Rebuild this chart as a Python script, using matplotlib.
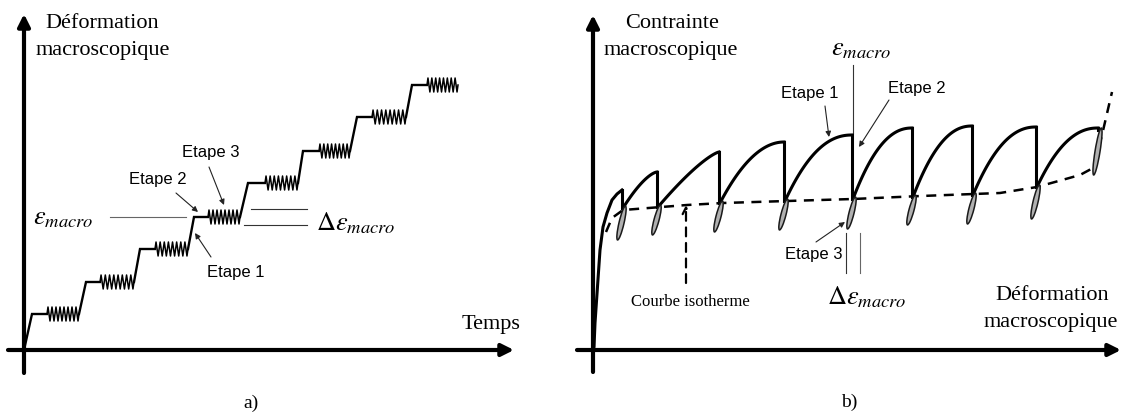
import numpy as np
import matplotlib
matplotlib.use("Agg")
import matplotlib.pyplot as plt
from matplotlib.patches import Ellipse

plt.rcParams['mathtext.fontset'] = 'stix'
SERIF = 'Liberation Serif'
SANS = 'Liberation Sans'

# --- a) deformation vs temps (staircase) ---
rise_top_t = [8, 62, 116, 170, 224, 279, 333, 388]
zig_start_t = [23, 76, 131, 184, 241, 295, 348, 403]
zig_end_t = [55, 110, 164, 216, 274, 326, 382, 434]
levels = [36, 68, 101, 133, 167, 199, 233, 265]
zig_amp = 7
n_teeth = 8

# --- b) contrainte vs deformation ---
init_x = [0, 1, 2, 7, 10, 14, 19, 24, 29]
init_y = [0, 3, 27, 100, 123, 137, 150, 156, 160]
peak_x = [29, 64, 126, 191, 259, 319, 379, 443, 505]
peak_y = [160, 178, 198, 208, 215, 222, 224, 223, 222]
loop_top = [142, 143, 147, 149, 151, 153, 155, 163, 220]
loop_bottom = [112, 117, 120, 122, 123, 127, 128, 133, 177]
arc_bend = [1.5, 1.3, 2.0, 2.2, 2.2, 2.2, 2.2, 2.2]
iso_x = [13, 19, 30, 94, 130, 194, 260, 328, 407, 444, 487, 500, 509, 519]
iso_y = [118, 132, 140, 145, 147, 149, 151, 154, 157, 163, 175, 182, 215, 258]

EPS = r'$\varepsilon_{macro}$'
DEPS = r'$\mathit{\Delta}\varepsilon_{macro}$'


def zigzag(x0, x1, lev):
    xs = [x0]
    ys = [lev]
    for k in range(2 * n_teeth):
        xs.append(x0 + (k + 0.5) * (x1 - x0) / (2 * n_teeth))
        ys.append(lev + zig_amp * (1 if k % 2 == 0 else -1))
    xs.append(x1)
    ys.append(lev)
    return xs, ys


def axis_arrows(ax, x0, x1, y0, y1):
    kw = dict(arrowstyle='-|>', lw=3, color='black', mutation_scale=18,
              shrinkA=0, shrinkB=0)
    ax.annotate('', xy=(x1, 0), xytext=(x0, 0), arrowprops=kw)
    ax.annotate('', xy=(0, y1), xytext=(0, y0), arrowprops=kw)


def pointer(ax, txt_xy, tip_xy):
    ax.annotate('', xy=tip_xy, xytext=txt_xy,
                arrowprops=dict(arrowstyle='-|>', lw=0.8, color='#222222',
                                mutation_scale=8, shrinkA=0, shrinkB=0))


fig = plt.figure(figsize=(11.26, 4.12), dpi=100)
ax_a = fig.add_axes([0, 0, 560 / 1126, 1])
ax_b = fig.add_axes([560 / 1126, 0, 566 / 1126, 1])
ax_a.set_xlim(-24, 536)
ax_a.set_ylim(-62, 350)
ax_b.set_xlim(-33, 533)
ax_b.set_ylim(-62, 350)
for ax in (ax_a, ax_b):
    ax.axis('off')

# ---------- panel a ----------
xs, ys = [0], [0]
for i in range(len(levels)):
    xs += [rise_top_t[i], zig_start_t[i]]
    ys += [levels[i], levels[i]]
    zx, zy = zigzag(zig_start_t[i], zig_end_t[i], levels[i])
    ax_a.plot(zx, zy, color='black', lw=1.1, zorder=3)
    ax_a.plot(xs, ys, color='black', lw=1.7, zorder=3, solid_joinstyle='miter')
    xs, ys = [zig_end_t[i]], [levels[i]]

axis_arrows(ax_a, -16, 490, -23, 336)

ax_a.text(78, 327, 'Déformation', family=SERIF, fontsize=16, ha='center', va='center')
ax_a.text(79, 300, 'macroscopique', family=SERIF, fontsize=16, ha='center', va='center')
ax_a.text(467, 25, 'Temps', family=SERIF, fontsize=16, ha='center', va='center')
ax_a.text(227, -53, 'a)', family=SERIF, fontsize=14, ha='center', va='center')

ax_a.text(39, 133, EPS, fontsize=19, ha='center', va='center')
ax_a.plot([86, 162], [133, 133], color='#666666', lw=0.8)
ax_a.text(332, 127, DEPS, fontsize=19, ha='center', va='center')
ax_a.plot([227, 283], [141, 141], color='#333333', lw=0.8)
ax_a.plot([220, 283], [125, 125], color='#333333', lw=0.8)

ax_a.text(187, 198, 'Etape 3', family=SANS, fontsize=12, ha='center', va='center')
pointer(ax_a, (185, 183), (200, 145))
ax_a.text(134, 171, 'Etape 2', family=SANS, fontsize=12, ha='center', va='center')
pointer(ax_a, (152, 157), (174, 138))
ax_a.text(212, 78, 'Etape 1', family=SANS, fontsize=12, ha='center', va='center')
pointer(ax_a, (187, 93), (171, 117))

# ---------- panel b ----------
ax_b.plot(init_x, init_y, color='black', lw=2.2, zorder=4)
ax_b.plot(iso_x, iso_y, color='black', lw=1.8, ls=(0, (4, 3)), zorder=3)

for i in range(len(peak_x)):
    # loops
    xb, yb = peak_x[i] - 4, loop_bottom[i]
    xt, yt = peak_x[i] + 3, loop_top[i]
    cx, cy = (xb + xt) / 2, (yb + yt) / 2
    length = np.hypot(xt - xb, yt - yb) + 4
    ang = np.degrees(np.arctan2(yt - yb, xt - xb)) - 90
    ax_b.add_patch(Ellipse((cx, cy), 5, length, angle=ang, facecolor='#b0b0b0',
                           edgecolor='#1a1a1a', lw=1.1, zorder=5))
    # vertical drop
    ax_b.plot([peak_x[i], peak_x[i]], [peak_y[i], loop_top[i]], color='black',
              lw=2.2, zorder=4)
    # rising arc to the next peak
    if i + 1 < len(peak_x):
        t = np.linspace(0, 1, 60)
        x0, y0 = peak_x[i] + 1, loop_top[i]
        x1, y1 = peak_x[i + 1], peak_y[i + 1]
        ax_b.plot(x0 + (x1 - x0) * t, y0 + (y1 - y0) * (1 - (1 - t) ** arc_bend[i]),
                  color='black', lw=2.2, zorder=4)

axis_arrows(ax_b, -16, 528, -22, 335)

ax_b.text(79, 327, 'Contrainte', family=SERIF, fontsize=16, ha='center', va='center')
ax_b.text(78, 300, 'macroscopique', family=SERIF, fontsize=16, ha='center', va='center')
ax_b.text(459, 55, 'Déformation', family=SERIF, fontsize=16, ha='center', va='center')
ax_b.text(458, 28, 'macroscopique', family=SERIF, fontsize=16, ha='center', va='center')
ax_b.text(256, -52, 'b)', family=SERIF, fontsize=14, ha='center', va='center')
ax_b.text(97, 48, 'Courbe isotherme', family=SERIF, fontsize=12, ha='center', va='center')
ax_b.annotate('', xy=(93, 145), xytext=(93, 67),
              arrowprops=dict(arrowstyle='->', lw=1.6, ls=(0, (4, 3)),
                              color='black', shrinkA=0, shrinkB=0, mutation_scale=12))

ax_b.text(268, 302, EPS, fontsize=19, ha='center', va='center')
ax_b.plot([260, 260], [217, 285], color='#333333', lw=0.8)
ax_b.text(274, 53, DEPS, fontsize=19, ha='center', va='center')
ax_b.plot([253, 253], [77, 117], color='#333333', lw=0.8)
ax_b.plot([267, 267], [77, 117], color='#666666', lw=0.8)

ax_b.text(217, 257, 'Etape 1', family=SANS, fontsize=12, ha='center', va='center')
pointer(ax_b, (232, 244), (236, 213))
ax_b.text(324, 262, 'Etape 2', family=SANS, fontsize=12, ha='center', va='center')
pointer(ax_b, (296, 250), (266, 203))
ax_b.text(221, 95, 'Etape 3', family=SANS, fontsize=12, ha='center', va='center')
pointer(ax_b, (223, 108), (252, 128))

fig.savefig('out.png', dpi=100, facecolor='white')
